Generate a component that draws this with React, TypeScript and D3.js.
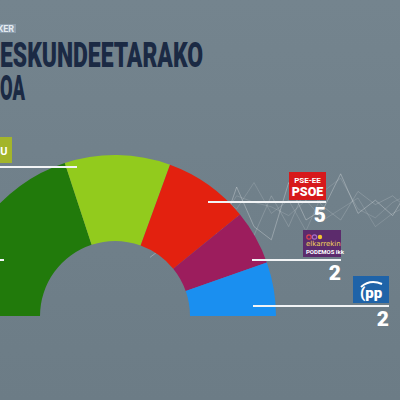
import React from "react";
import * as d3 from "d3";

// parties from left to right of the hemicycle
const parties = ["EAJ-PNV", "EH BILDU", "PSE-EE PSOE", "ELKARREKIN PODEMOS", "PP"];
// share of the half circle each party takes
const arcShare = [39.9, 21.2, 17.2, 10.9, 10.8];
// seats printed next to the party logos (the first two are off screen)
const seats = ["", "", "5", "2", "2"];
const colors = ["#217a0b", "#92cb1d", "#e3210f", "#9c1d5d", "#1a8ff0"];

// faint line charts in the background
const bgLineA = [38, 44, 40, 58, 47, 70, 52, 46, 72, 55, 60, 76, 58, 64, 57, 70];
const bgLineB = [50, 46, 55, 50, 62, 57, 48, 66, 52, 70, 61, 55, 68, 62, 66, 59];
const bgLineC = [60, 64, 58, 52, 66, 60, 72, 58, 64, 50, 68, 74, 60, 56, 63, 67];
const bgLineD = [55, 58, 62, 60, 54, 66, 63, 61, 57, 64, 55, 60, 65, 52, 58, 62];

const W = 400;
const H = 400;
const cx = 115;
const cy = 316;
const innerR = 75;
const outerR = 161;

// where each leader line sits, and the right edge of its logo / number
const labels = [
  { lineY: 260, x0: -20, x1: 4 },
  { lineY: 167, x0: -20, x1: 77 },
  { lineY: 202, x0: 208, x1: 326 },
  { lineY: 260, x0: 252, x1: 341 },
  { lineY: 306, x0: 253, x1: 389 },
];

const App = () => {
  const pie = d3
    .pie<number>()
    .sort(null)
    .startAngle(-Math.PI / 2)
    .endAngle(Math.PI / 2)
    .value((d) => d);
  const slices = pie(arcShare);
  const arc = d3.arc<d3.PieArcDatum<number>>().innerRadius(innerR).outerRadius(outerR);

  const bx = d3.scaleLinear().domain([0, bgLineA.length - 1]).range([150, 410]);
  const by = d3.scaleLinear().domain([30, 80]).range([275, 165]);
  const bgLine = d3
    .line<number>()
    .x((_, i) => bx(i))
    .y((d) => by(d));

  const bold = "Roboto, 'DejaVu Sans', sans-serif";

  return (
    <svg
      width={W}
      height={H}
      style={{ position: "fixed", top: 0, left: 0, display: "block" }}
    >
      <defs>
        <linearGradient id="bg" x1="0" y1="0" x2="0" y2="1">
          <stop offset="0%" stopColor="#74848e" />
          <stop offset="100%" stopColor="#6c7c86" />
        </linearGradient>
      </defs>
      <rect width={W} height={H} fill="url(#bg)" />

      {/* background decoration */}
      <g fill="none" stroke="#ffffff" strokeWidth={0.9}>
        <path d={bgLine(bgLineA) ?? ""} strokeOpacity={0.3} />
        <path d={bgLine(bgLineB) ?? ""} strokeOpacity={0.18} />
        <path d={bgLine(bgLineC) ?? ""} strokeOpacity={0.15} />
        <path d={bgLine(bgLineD) ?? ""} strokeOpacity={0.15} />
      </g>

      {/* title */}
      <rect x={-40} y={24} width={56} height={9} fill="#8a9cab" />
      <text
        x={14}
        y={31.5}
        textAnchor="end"
        fontFamily={bold}
        fontWeight={700}
        fontSize={9}
        fill="#e4eaf0"
      >
        TRACKER
      </text>
      <text y={67} fontFamily={bold} fontWeight={900} fontSize={35} fill="#1b2a44">
        <tspan x={-1} textAnchor="end">
          HAUT
        </tspan>
        <tspan x={0} textLength={203} lengthAdjust="spacingAndGlyphs">
          ESKUNDEETARAKO
        </tspan>
      </text>
      <text y={100} fontFamily={bold} fontWeight={900} fontSize={35} fill="#1b2a44">
        <tspan x={-1} textAnchor="end">
          GIPUZK
        </tspan>
        <tspan x={0} textLength={25} lengthAdjust="spacingAndGlyphs">
          OA
        </tspan>
      </text>

      {/* hemicycle */}
      <g transform={`translate(${cx},${cy})`}>
        {slices.map((s, i) => (
          <path key={parties[i]} d={arc(s) ?? ""} fill={colors[i]} />
        ))}
      </g>

      {/* leader lines */}
      {labels.map((l, i) => (
        <line
          key={`l-${parties[i]}`}
          x1={l.x0}
          x2={l.x1}
          y1={l.lineY}
          y2={l.lineY}
          stroke="#f2f4f6"
          strokeWidth={2}
        />
      ))}

      {/* EH Bildu logo, cut off on the left */}
      <rect x={-30} y={137} width={42} height={26} fill="#a3b52b" />
      <text
        x={9.5}
        y={155}
        textAnchor="end"
        fontFamily={bold}
        fontWeight={700}
        fontSize={11}
        letterSpacing={2}
        fill="#ffffff"
      >
        BILDU
      </text>

      {/* PSOE logo */}
      <rect x={289} y={172} width={37} height={28} fill="#d7191b" />
      <text
        x={307.5}
        y={183}
        textAnchor="middle"
        fontFamily={bold}
        fontWeight={700}
        fontSize={8}
        fill="#ffffff"
      >
        PSE-EE
      </text>
      <text
        x={307.5}
        y={196}
        textAnchor="middle"
        fontFamily={bold}
        fontWeight={900}
        fontSize={12.5}
        fill="#ffffff"
      >
        PSOE
      </text>

      {/* Elkarrekin Podemos logo */}
      <rect x={303} y={230} width={38} height={27} fill="#5c2b6c" />
      <circle cx={309} cy={237} r={2.2} fill="none" stroke="#e2424f" strokeWidth={1.2} />
      <circle cx={314.5} cy={237} r={2.2} fill="none" stroke="#a56bc8" strokeWidth={1.2} />
      <circle cx={320} cy={237} r={2.2} fill="#f4c430" />
      <text
        x={306}
        y={246}
        fontFamily="'DejaVu Sans', sans-serif"
        fontSize={7}
        fill="#f0d25a"
      >
        elkarrekin
      </text>
      <text
        x={306}
        y={254}
        fontFamily={bold}
        fontWeight={700}
        fontSize={6}
        fill="#ffffff"
      >
        PODEMOS ikk
      </text>

      {/* PP logo */}
      <rect x={353} y={276} width={36} height={27} fill="#1f63a8" />
      <path
        d="M361,287 Q370,279 382,284"
        fill="none"
        stroke="#ffffff"
        strokeWidth={2}
      />
      <text
        x={371}
        y={298}
        textAnchor="middle"
        fontFamily={bold}
        fontWeight={900}
        fontSize={15}
        fill="#ffffff"
      >
        (pp
      </text>

      {/* seat numbers */}
      {labels.map((l, i) =>
        seats[i] ? (
          <text
            key={`n-${parties[i]}`}
            x={l.x1}
            y={l.lineY + 20}
            textAnchor="end"
            fontFamily={bold}
            fontWeight={900}
            fontSize={21}
            fill="#ffffff"
          >
            {seats[i]}
          </text>
        ) : null
      )}
    </svg>
  );
};

export default App;
